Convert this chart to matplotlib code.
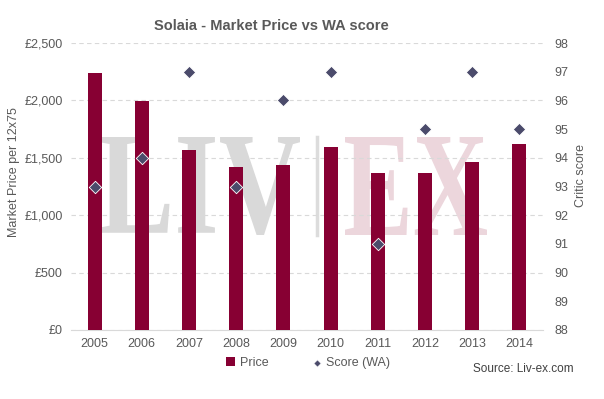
import matplotlib.pyplot as plt
import numpy as np
from matplotlib.textpath import TextPath
from matplotlib.patches import PathPatch
from matplotlib.font_manager import FontProperties
from matplotlib.transforms import Affine2D
from matplotlib.lines import Line2D

plt.rcParams['font.family'] = ['Liberation Sans', 'DejaVu Sans']

years = ['2005', '2006', '2007', '2008', '2009', '2010', '2011', '2012', '2013', '2014']
price = [2240, 1995, 1570, 1420, 1435, 1595, 1370, 1370, 1465, 1620]
score = [93, 94, 97, 93, 96, 97, 91, 95, 97, 95]

grey = '#595959'
W, H = 604, 399
fig = plt.figure(figsize=(6.04, 3.99), dpi=100)
ax = fig.add_axes([71 / W, 1 - 330 / H, (543 - 71) / W, 287 / H])
ax2 = ax.twinx()


# watermark, fitted into a pixel box
def watermark(txt, box, color):
    fp = FontProperties(family='Liberation Serif', weight='bold')
    p = TextPath((0, 0), txt, size=100, prop=fp)
    e = p.get_extents()
    x0, x1, top, bottom = box
    tr = (Affine2D().translate(-e.x0, -e.y0)
          .scale((x1 - x0) / e.width, (bottom - top) / e.height)
          .translate(x0, H - bottom))
    fig.add_artist(PathPatch(p, transform=tr, facecolor=color, edgecolor='none', zorder=-1))


watermark('LIV', (100, 300, 137, 235), '#d9d9d9')
watermark('EX', (345, 487, 137, 235), '#ecd6dc')
fig.add_artist(Line2D([317 / W, 317 / W], [1 - 137 / H, 1 - 235 / H], color='#dcdcdc',
                      linewidth=2.5, zorder=-1))

x = np.arange(len(years))
ax.bar(x, price, width=0.30, color='#870033', zorder=3, label='Price')
ax2.scatter(x, score, marker='D', s=40, color='#4b4b6b', edgecolors='white',
            linewidths=0.6, zorder=4, label='Score (WA)')

ax.set_xlim(-0.5, len(years) - 0.5)
ax.set_ylim(0, 2500)
ax.set_yticks(np.arange(0, 2501, 500))
ax.set_yticklabels(['£{:,}'.format(v) for v in range(0, 2501, 500)])
ax2.set_ylim(88, 98)
ax2.set_yticks(range(88, 99))
ax.set_xticks(x)
ax.set_xticklabels(years)

ax.grid(axis='y', color='#d9d9d9', linestyle=(0, (4, 3)), linewidth=0.8, zorder=0)
for a in (ax, ax2):
    for s in a.spines.values():
        s.set_visible(False)
    a.tick_params(length=0, colors=grey, labelsize=9)
ax.spines['bottom'].set_visible(True)
ax.spines['bottom'].set_color('#d9d9d9')
ax.tick_params(axis='x', pad=6)
ax.tick_params(axis='y', pad=6)
ax2.tick_params(axis='y', pad=8)

ax.set_ylabel('Market Price per 12x75', color=grey, fontsize=9)
ax.yaxis.set_label_coords(-(71 - 20) / 472, 0.55)
ax2.set_ylabel('Critic score', color=grey, fontsize=9)
ax2.yaxis.set_label_coords(1 + (575 - 543) / 472, 0.537)
ax.patch.set_visible(False)

fig.text(271 / W, 1 - 26 / H, 'Solaia - Market Price vs WA score', ha='center', va='center',
         fontsize=10.5, fontweight='bold', color=grey)

h1, l1 = ax.get_legend_handles_labels()
h2, l2 = ax2.get_legend_handles_labels()
fig.legend(h1 + h2, l1 + l2, loc='center', bbox_to_anchor=(308 / W, 1 - 363 / H), ncol=2,
           frameon=False, fontsize=9, labelcolor=grey, handlelength=0.7,
           handleheight=0.7, columnspacing=3.5, handletextpad=0.4, markerscale=0.6)
fig.text(574 / W, 1 - 369 / H, 'Source: Liv-ex.com', ha='right', va='center', fontsize=8.5,
         color='#404040')

fig.savefig('out.png', dpi=100)
